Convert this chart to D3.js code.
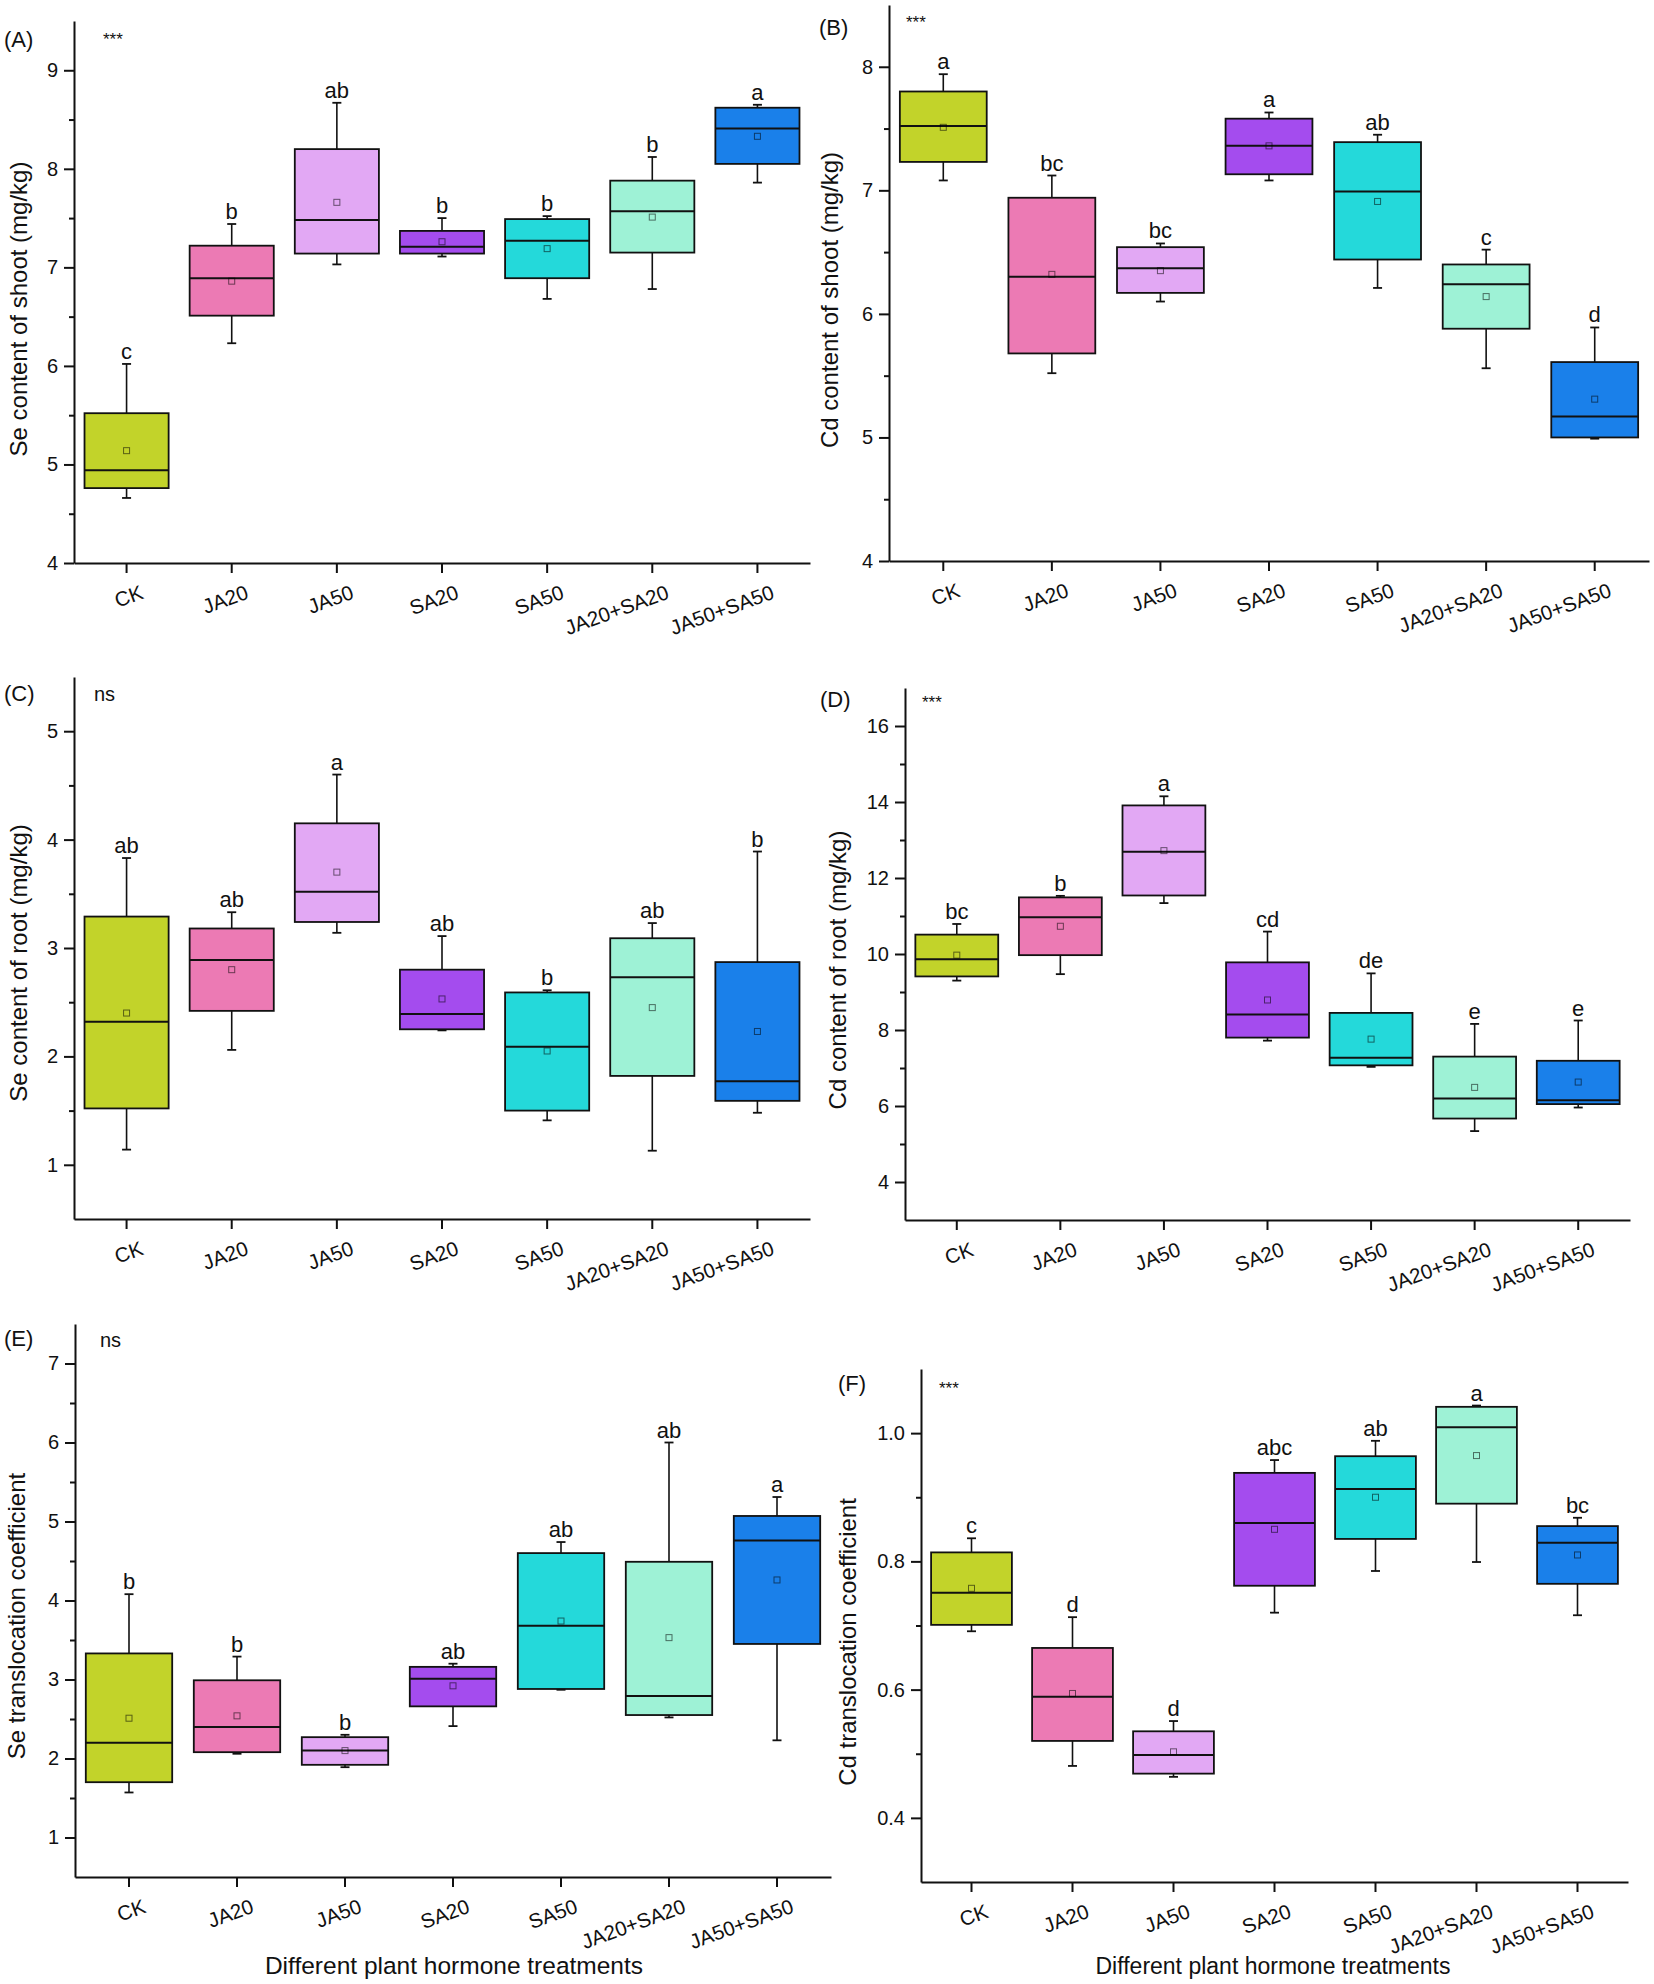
<!DOCTYPE html>
<html>
<head>
<meta charset="UTF-8">
<title>hormone boxplots</title>
<style>
  body { margin: 0; background: #fff; }
  svg { display: block; font-family: "Liberation Sans", Arial, sans-serif; }
</style>
</head>
<body>
<div class="svg-zone"></div>
<script src="https://cdn.jsdelivr.net/npm/d3@7"></script>
<script>
// treatments and their box colours
const categories = ["CK", "JA20", "JA50", "SA20", "SA50", "JA20+SA20", "JA50+SA50"];
const boxColors = ["#c2d32a", "#ec7ab4", "#e2a8f4", "#a44cee", "#24d9da", "#9ef2d6", "#1a80ea"];

// each row: [lower whisker, Q1, median, Q3, upper whisker]
const seShoot = [
  [4.66, 4.76, 4.94, 5.52, 6.02],
  [6.23, 6.51, 6.89, 7.22, 7.44],
  [7.03, 7.14, 7.48, 8.20, 8.67],
  [7.11, 7.14, 7.21, 7.37, 7.50],
  [6.68, 6.89, 7.27, 7.49, 7.52],
  [6.78, 7.15, 7.57, 7.88, 8.12],
  [7.86, 8.05, 8.41, 8.62, 8.65]
];
const seShootMean = [5.14, 6.86, 7.66, 7.26, 7.19, 7.51, 8.33];
const seShootSig = ["c", "b", "ab", "b", "b", "b", "a"];

const cdShoot = [
  [7.08, 7.23, 7.52, 7.80, 7.94],
  [5.52, 5.68, 6.30, 6.94, 7.12],
  [6.10, 6.17, 6.37, 6.54, 6.57],
  [7.08, 7.13, 7.36, 7.58, 7.63],
  [6.21, 6.44, 6.99, 7.39, 7.45],
  [5.56, 5.88, 6.24, 6.40, 6.52],
  [4.99, 5.00, 5.17, 5.61, 5.89]
];
const cdShootMean = [7.51, 6.32, 6.35, 7.36, 6.91, 6.14, 5.31];
const cdShootSig = ["a", "bc", "bc", "a", "ab", "c", "d"];

const seRoot = [
  [1.14, 1.52, 2.32, 3.29, 3.83],
  [2.06, 2.42, 2.89, 3.18, 3.33],
  [3.14, 3.24, 3.52, 4.15, 4.60],
  [2.24, 2.25, 2.39, 2.80, 3.11],
  [1.41, 1.50, 2.09, 2.59, 2.61],
  [1.13, 1.82, 2.73, 3.09, 3.23],
  [1.48, 1.59, 1.77, 2.87, 3.89]
];
const seRootMean = [2.40, 2.80, 3.70, 2.53, 2.05, 2.45, 2.23];
const seRootSig = ["ab", "ab", "a", "ab", "b", "ab", "b"];

const cdRoot = [
  [9.30, 9.41, 9.86, 10.51, 10.79],
  [9.47, 9.97, 10.97, 11.49, 11.53],
  [11.34, 11.54, 12.69, 13.91, 14.15],
  [7.72, 7.80, 8.41, 9.78, 10.59],
  [7.03, 7.07, 7.27, 8.45, 9.49],
  [5.34, 5.67, 6.20, 7.30, 8.16],
  [5.96, 6.05, 6.15, 7.19, 8.25]
];
const cdRootMean = [9.97, 10.73, 12.72, 8.79, 7.76, 6.49, 6.63];
const cdRootSig = ["bc", "b", "a", "cd", "de", "e", "e"];

const seTrans = [
  [1.57, 1.70, 2.20, 3.33, 4.08],
  [2.06, 2.08, 2.40, 2.99, 3.29],
  [1.89, 1.92, 2.10, 2.27, 2.30],
  [2.41, 2.66, 3.01, 3.16, 3.20],
  [2.87, 2.88, 3.68, 4.60, 4.74],
  [2.52, 2.55, 2.79, 4.49, 6.00],
  [2.23, 3.45, 4.76, 5.07, 5.31]
];
const seTransMean = [2.51, 2.54, 2.10, 2.92, 3.74, 3.53, 4.26];
const seTransSig = ["b", "b", "b", "ab", "ab", "ab", "a"];

const cdTrans = [
  [0.691, 0.701, 0.751, 0.814, 0.836],
  [0.481, 0.520, 0.589, 0.665, 0.713],
  [0.464, 0.469, 0.498, 0.535, 0.551],
  [0.720, 0.762, 0.860, 0.938, 0.958],
  [0.785, 0.835, 0.913, 0.964, 0.988],
  [0.799, 0.890, 1.009, 1.041, 1.043],
  [0.716, 0.765, 0.829, 0.855, 0.868]
];
const cdTransMean = [0.758, 0.594, 0.503, 0.850, 0.900, 0.965, 0.810];
const cdTransSig = ["c", "d", "d", "abc", "ab", "a", "bc"];

const xTitle = "Different plant hormone treatments";

const width = 1654, height = 1984;
const svg = d3.select(".svg-zone").append("svg")
  .attr("width", width)
  .attr("height", height);

// panel layout
const panels = [
  { tag: "(A)", tagX: 4, tagY: 47, sig: "***", sigX: 103, sigY: 45, stats: seShoot, mean: seShootMean, letters: seShootSig,
    x0: 74, x1: 810, yTop: 21, yBot: 563, domain: [4, 9.5], ticks: d3.range(4, 9.01, 1), minor: d3.range(4.5, 9.5, 1), fmt: d3.format("d"),
    title: "Se content of shoot (mg/kg)", titleX: 27, titleY: 309 },
  { tag: "(B)", tagX: 819, tagY: 35, sig: "***", sigX: 906, sigY: 28, stats: cdShoot, mean: cdShootMean, letters: cdShootSig,
    x0: 889, x1: 1649, yTop: 5, yBot: 561, domain: [4, 8.5], ticks: d3.range(4, 8.01, 1), minor: d3.range(4.5, 8.5, 1), fmt: d3.format("d"),
    title: "Cd content of shoot (mg/kg)", titleX: 838, titleY: 300 },
  { tag: "(C)", tagX: 4, tagY: 701, sig: "ns", sigX: 94, sigY: 701, stats: seRoot, mean: seRootMean, letters: seRootSig,
    x0: 74, x1: 810, yTop: 677, yBot: 1219, domain: [0.5, 5.5], ticks: d3.range(1, 5.01, 1), minor: d3.range(1.5, 5.5, 1), fmt: d3.format("d"),
    title: "Se content of root (mg/kg)", titleX: 27, titleY: 963 },
  { tag: "(D)", tagX: 820, tagY: 707, sig: "***", sigX: 922, sigY: 708, stats: cdRoot, mean: cdRootMean, letters: cdRootSig,
    x0: 905, x1: 1630, yTop: 688, yBot: 1220, domain: [3, 17], ticks: d3.range(4, 16.01, 2), minor: d3.range(5, 17, 2), fmt: d3.format("d"),
    title: "Cd content of root (mg/kg)", titleX: 846, titleY: 970 },
  { tag: "(E)", tagX: 4, tagY: 1346, sig: "ns", sigX: 100, sigY: 1347, stats: seTrans, mean: seTransMean, letters: seTransSig,
    x0: 75, x1: 831, yTop: 1324, yBot: 1877, domain: [0.5, 7.5], ticks: d3.range(1, 7.01, 1), minor: d3.range(1.5, 7.5, 1), fmt: d3.format("d"),
    title: "Se translocation coefficient", titleX: 25, titleY: 1616, xTitleX: 454, xTitleSize: 24.5 },
  { tag: "(F)", tagX: 838, tagY: 1391, sig: "***", sigX: 939, sigY: 1394, stats: cdTrans, mean: cdTransMean, letters: cdTransSig,
    x0: 921, x1: 1628, yTop: 1369, yBot: 1882, domain: [0.3, 1.1], ticks: [0.4, 0.6, 0.8, 1.0], minor: [0.5, 0.7, 0.9], fmt: d3.format(".1f"),
    title: "Cd translocation coefficient", titleX: 856, titleY: 1642, xTitleX: 1273, xTitleSize: 23 }
];

panels.forEach(drawPanel);

function drawPanel(p) {
  const x = d3.scaleBand()
    .domain(categories)
    .range([p.x0, p.x1])
    .paddingInner(0.2)
    .paddingOuter(0.1);
  const y = d3.scaleLinear()
    .domain(p.domain)
    .range([p.yBot, p.yTop]);

  const g = svg.append("g");

  // boxes
  const box = g.selectAll(".box")
    .data(categories)
    .enter().append("g")
    .attr("class", "box");

  box.each(function (c, i) {
    const s = p.stats[i];
    const bx = x(c), bw = x.bandwidth(), cx = bx + bw / 2;
    const sel = d3.select(this);
    // whiskers
    sel.append("line")
      .attr("x1", cx).attr("x2", cx)
      .attr("y1", y(s[0])).attr("y2", y(s[4]))
      .attr("stroke", "#111").attr("stroke-width", 1.6);
    [s[0], s[4]].forEach(v => {
      sel.append("line")
        .attr("x1", cx - 4.5).attr("x2", cx + 4.5)
        .attr("y1", y(v)).attr("y2", y(v))
        .attr("stroke", "#111").attr("stroke-width", 1.8);
    });
    sel.append("rect")
      .attr("x", bx)
      .attr("y", y(s[3]))
      .attr("width", bw)
      .attr("height", y(s[1]) - y(s[3]))
      .attr("fill", boxColors[i])
      .attr("stroke", "#111")
      .attr("stroke-width", 1.8);
    sel.append("line")
      .attr("x1", bx).attr("x2", bx + bw)
      .attr("y1", y(s[2])).attr("y2", y(s[2]))
      .attr("stroke", "#111").attr("stroke-width", 2);
    // mean
    sel.append("rect")
      .attr("x", cx - 3).attr("y", y(p.mean[i]) - 3)
      .attr("width", 6).attr("height", 6)
      .attr("fill", "none")
      .attr("stroke", "rgba(0,0,0,0.55)")
      .attr("stroke-width", 1);
    // significance letters
    sel.append("text")
      .attr("x", cx)
      .attr("y", y(s[4]) - 5)
      .attr("text-anchor", "middle")
      .attr("font-size", 22)
      .attr("fill", "#111")
      .text(p.letters[i]);
  });

  // y axis
  g.append("g")
    .attr("transform", "translate(" + p.x0 + ",0)")
    .call(d3.axisLeft(y).tickValues(p.ticks).tickFormat(p.fmt).tickSize(10).tickSizeOuter(0).tickPadding(6));
  g.append("g")
    .attr("transform", "translate(" + p.x0 + ",0)")
    .call(d3.axisLeft(y).tickValues(p.minor).tickFormat("").tickSize(5).tickSizeOuter(0))
    .select(".domain").remove();

  // x axis
  const xAxis = g.append("g")
    .attr("transform", "translate(0," + p.yBot + ")")
    .call(d3.axisBottom(x).tickSize(10).tickSizeOuter(0));

  g.selectAll(".domain, .tick line")
    .attr("stroke", "#111")
    .attr("stroke-width", 2);
  g.selectAll(".tick text")
    .attr("font-size", 20)
    .attr("font-family", "Liberation Sans, Arial, sans-serif")
    .attr("fill", "#111");

  xAxis.selectAll("text")
    .attr("text-anchor", "end")
    .attr("dy", null)
    .attr("y", 0)
    .attr("font-size", 20.5)
    .attr("transform", "translate(18,35) rotate(-20)");

  // titles
  g.append("text")
    .attr("transform", "translate(" + p.titleX + "," + p.titleY + ") rotate(-90)")
    .attr("text-anchor", "middle")
    .attr("font-size", 24)
    .attr("fill", "#111")
    .text(p.title);

  g.append("text")
    .attr("x", p.tagX).attr("y", p.tagY)
    .attr("font-size", 22)
    .attr("fill", "#111")
    .text(p.tag);

  g.append("text")
    .attr("x", p.sigX).attr("y", p.sigY)
    .attr("font-size", p.sig === "ns" ? 20 : 17)
    .attr("fill", "#111")
    .text(p.sig);

  if (p.xTitleX) {
    g.append("text")
      .attr("x", p.xTitleX).attr("y", 1974)
      .attr("text-anchor", "middle")
      .attr("font-size", p.xTitleSize)
      .attr("fill", "#111")
      .text(xTitle);
  }
}
</script>
</body>
</html>
